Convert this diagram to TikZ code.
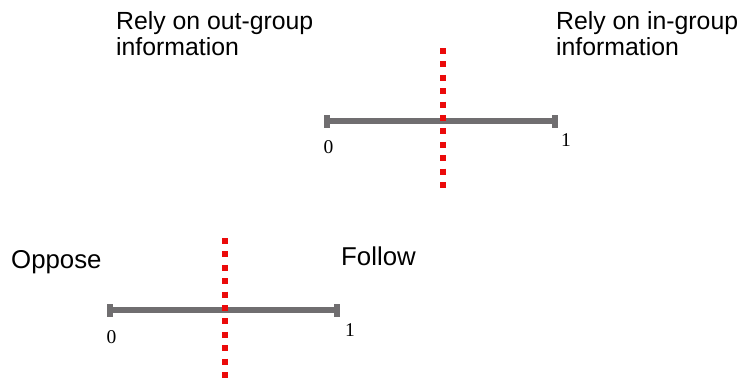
\documentclass[tikz,border=0pt]{standalone}
\usepackage{fontspec}
\setmainfont{Liberation Sans}
\newfontfamily\numfont{Liberation Serif}
\definecolor{bargray}{RGB}{112,110,112}
\definecolor{dotred}{RGB}{235,10,10}
\begin{document}
\begin{tikzpicture}[x=1pt,y=-1pt,
  barline/.style={line width=6pt,draw=bargray},
  barcap/.style={fill=bargray,draw=none,minimum width=6pt,minimum height=13pt,inner sep=0pt},
  reddots/.style={line width=6pt,draw=dotred,dash pattern=on 6pt off 7.4pt},
  label/.style={font=\fontsize{24.8}{26}\selectfont,align=left,anchor=base west,inner sep=0pt},
  biglabel/.style={font=\fontsize{25.8}{30}\selectfont,anchor=base west,inner sep=0pt},
  numlabel/.style={font=\numfont\fontsize{19.5}{22}\selectfont,anchor=base west,inner sep=0pt}]
\useasboundingbox (0,0) rectangle (745,380);
% top scale
\coordinate (tl) at (327,121);
\coordinate (tr) at (554.5,121);
\draw[barline] (tl) -- (tr);
\node[barcap] (tlcap) at (tl) {};
\node[barcap] (trcap) at (tr) {};
\coordinate (tdtop) at (443,48);
\coordinate (tdbot) at (443,188);
\draw[reddots] (tdtop) -- (tdbot);
\node[numlabel] (t0) at (323.5,153) {0};
\node[numlabel] (t1) at (561,146) {1};
\node[label] (outg) at (116,55.5) {Rely on out-group\\information};
\node[label] (ing) at (556,55.5) {Rely on in-group\\information};
% bottom scale
\coordinate (bl) at (110,310);
\coordinate (br) at (336.5,310);
\draw[barline] (bl) -- (br);
\node[barcap] (blcap) at (bl) {};
\node[barcap] (brcap) at (br) {};
\coordinate (bdtop) at (225,238);
\coordinate (bdbot) at (225,378);
\draw[reddots] (bdtop) -- (bdbot);
\node[numlabel] (b0) at (106.5,343) {0};
\node[numlabel] (b1) at (345,336) {1};
\node[biglabel] (opp) at (11,268) {Oppose};
\node[biglabel] (fol) at (341,265) {Follow};
\end{tikzpicture}
\end{document}
